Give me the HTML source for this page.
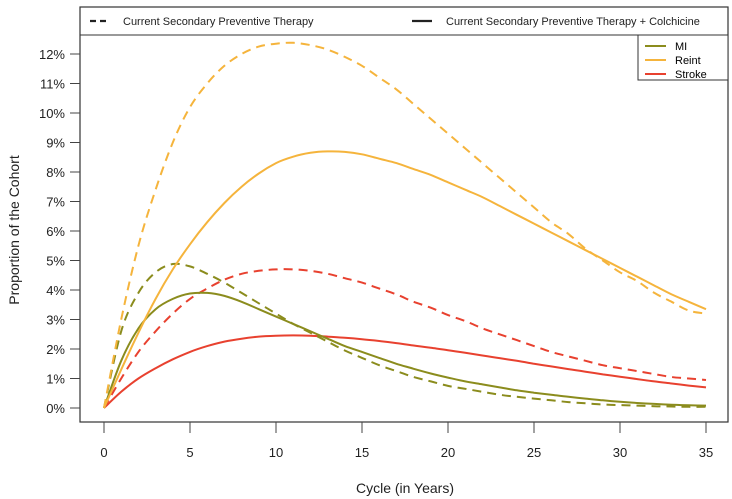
<!DOCTYPE html>
<html><head><meta charset="utf-8"><style>
body{margin:0;background:#fff;}
svg{display:block;font-family:"Liberation Sans",Arial,sans-serif;}
</style></head><body>
<svg id="chart" width="732" height="499">
<rect x="80" y="7" width="648" height="415" fill="none" stroke="#333" stroke-width="1.2"/>
<line x1="80" y1="35" x2="728" y2="35" stroke="#333" stroke-width="1"/>
<g>
<line x1="90" y1="21" x2="110" y2="21" stroke="#222" stroke-width="2.2" stroke-dasharray="6,4"/>
<text x="123" y="25" font-size="11" fill="#222">Current Secondary Preventive Therapy</text>
<line x1="412" y1="21" x2="432" y2="21" stroke="#222" stroke-width="2.2"/>
<text x="446" y="25" font-size="11" fill="#222">Current Secondary Preventive Therapy + Colchicine</text>
</g>
<g>
<rect x="638" y="35" width="90" height="45" fill="#fff" stroke="#333" stroke-width="1"/>
<line x1="645" y1="46" x2="666" y2="46" stroke="#8b8c1d" stroke-width="2"/>
<text x="675" y="50" font-size="11">MI</text>
<line x1="645" y1="60" x2="666" y2="60" stroke="#f5b43c" stroke-width="2"/>
<text x="675" y="64" font-size="11">Reint</text>
<line x1="645" y1="74" x2="666" y2="74" stroke="#e8412f" stroke-width="2"/>
<text x="675" y="78" font-size="11">Stroke</text>
</g>
<g id="axes"></g>
<g id="series"></g>
<text x="405" y="493" font-size="14" text-anchor="middle" fill="#222">Cycle (in Years)</text>
<text transform="translate(19,230) rotate(-90)" font-size="14" text-anchor="middle" fill="#222">Proportion of the Cohort</text>
</svg>
<script>
const years=[0,1,2,3,4,5,6,7,8,9,10,11,12,13,14,15,16,17,18,19,20,21,22,23,24,25,26,27,28,29,30,31,32,33,34,35];
const reintCurrent=[0,3.0,5.5,7.4,9.0,10.2,11.0,11.6,12.0,12.25,12.35,12.38,12.3,12.15,11.9,11.6,11.2,10.8,10.3,9.8,9.3,8.8,8.3,7.8,7.3,6.8,6.3,5.9,5.4,5.0,4.6,4.3,3.9,3.6,3.3,3.2];
const reintColch=[0,1.3,2.55,3.7,4.7,5.55,6.3,6.95,7.5,7.95,8.3,8.52,8.65,8.7,8.68,8.6,8.45,8.3,8.1,7.9,7.65,7.4,7.15,6.85,6.55,6.25,5.95,5.65,5.35,5.05,4.75,4.45,4.15,3.85,3.6,3.35];
const miCurrent=[0,2.6,3.9,4.6,4.88,4.8,4.55,4.25,3.9,3.55,3.2,2.85,2.55,2.25,1.95,1.7,1.45,1.25,1.05,0.9,0.75,0.65,0.55,0.45,0.38,0.32,0.26,0.2,0.16,0.12,0.1,0.08,0.06,0.05,0.04,0.04];
const miColch=[0,1.6,2.7,3.35,3.7,3.88,3.9,3.8,3.6,3.35,3.1,2.85,2.6,2.35,2.1,1.9,1.7,1.5,1.33,1.17,1.03,0.9,0.8,0.7,0.6,0.52,0.45,0.38,0.32,0.26,0.21,0.17,0.14,0.11,0.09,0.08];
const strokeCurrent=[0,1.0,1.9,2.6,3.2,3.7,4.05,4.35,4.55,4.65,4.7,4.7,4.65,4.55,4.4,4.25,4.05,3.85,3.6,3.4,3.15,2.95,2.7,2.5,2.3,2.1,1.9,1.75,1.6,1.45,1.35,1.25,1.15,1.05,1.0,0.95];
const strokeColch=[0,0.55,1.0,1.35,1.65,1.9,2.1,2.25,2.35,2.42,2.45,2.46,2.45,2.42,2.38,2.33,2.27,2.2,2.12,2.04,1.96,1.87,1.78,1.69,1.6,1.5,1.41,1.32,1.23,1.14,1.06,0.98,0.9,0.83,0.76,0.7];
const xTicks=[0,5,10,15,20,25,30,35];
const yTicks=[0,1,2,3,4,5,6,7,8,9,10,11,12];
const NS="http://www.w3.org/2000/svg";
const xs=v=>104+v*(602/35);
const ys=v=>408-v*29.5;
const axes=document.getElementById('axes');
function mk(tag,attrs,parent){const e=document.createElementNS(NS,tag);for(const k in attrs)e.setAttribute(k,attrs[k]);parent.appendChild(e);return e;}
xTicks.forEach(t=>{
  const l=mk('line',{x1:xs(t),x2:xs(t),y1:422,y2:433,stroke:'#444'},axes);
  
  
  const tx=mk('text',{x:xs(t),y:457,'font-size':13,'text-anchor':'middle',fill:'#222'},axes);
  tx.textContent=t;
  
  
});
yTicks.forEach(t=>{
  const l=mk('line',{x1:70,x2:80,y1:ys(t),y2:ys(t),stroke:'#444'},axes);
  
  
  const tx=mk('text',{x:65,y:ys(t)+5,'font-size':13,'text-anchor':'end',fill:'#222'},axes);
  tx.textContent=t+'%';
  
  
});
const seriesG=document.getElementById('series');
function draw(vals,color,dash,name){
  const P=vals.map((v,i)=>[xs(years[i]),ys(v)]);
  let d='M'+P[0][0].toFixed(1)+','+P[0][1].toFixed(1);
  for(let i=0;i<P.length-1;i++){
    const p0=P[Math.max(0,i-1)],p1=P[i],p2=P[i+1],p3=P[Math.min(P.length-1,i+2)];
    const c1=[p1[0]+(p2[0]-p0[0])/6,p1[1]+(p2[1]-p0[1])/6];
    const c2=[p2[0]-(p3[0]-p1[0])/6,p2[1]-(p3[1]-p1[1])/6];
    d+='C'+c1[0].toFixed(1)+','+c1[1].toFixed(1)+' '+c2[0].toFixed(1)+','+c2[1].toFixed(1)+' '+p2[0].toFixed(1)+','+p2[1].toFixed(1);
  }
  const p=mk('path',{d:d,fill:'none',stroke:color,'stroke-width':2,'stroke-linejoin':'round'},seriesG);
  if(dash)p.setAttribute('stroke-dasharray','9,6');
  
  
}
draw(strokeColch,'#e8412f',false,'stroke-colchicine-line');
draw(strokeCurrent,'#e8412f',true,'stroke-current-line');
draw(miColch,'#8b8c1d',false,'mi-colchicine-line');
draw(miCurrent,'#8b8c1d',true,'mi-current-line');
draw(reintColch,'#f5b43c',false,'reint-colchicine-line');
draw(reintCurrent,'#f5b43c',true,'reint-current-line');
</script>
</body></html>
